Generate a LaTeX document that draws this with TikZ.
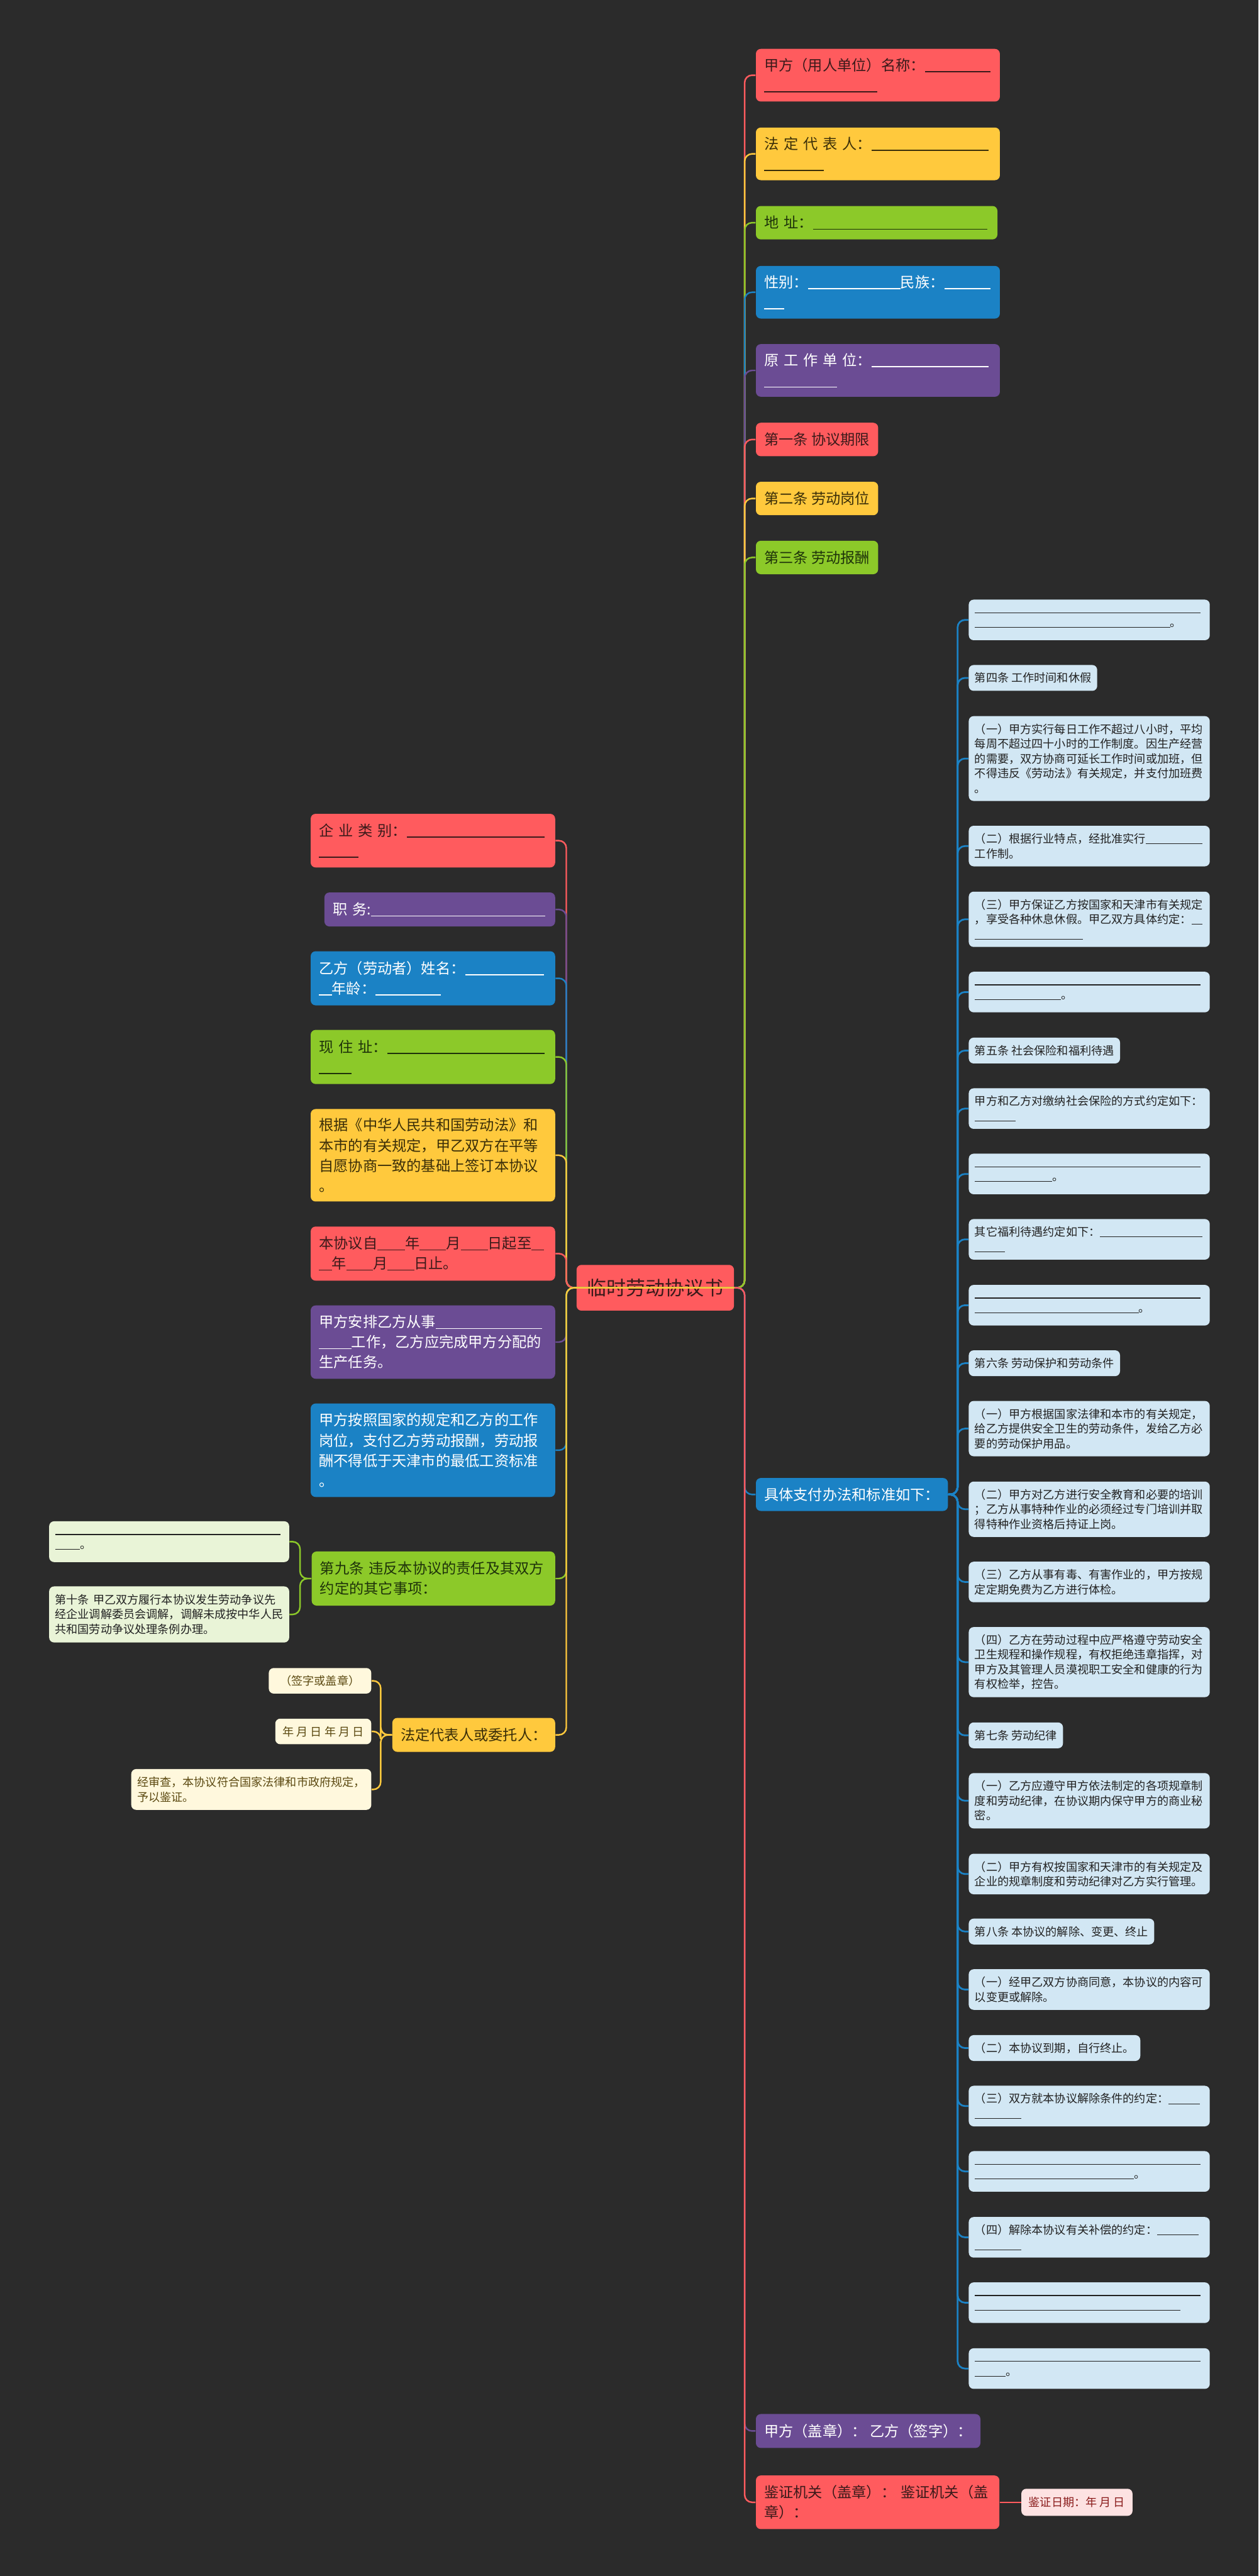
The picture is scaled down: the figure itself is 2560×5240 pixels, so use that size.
\documentclass[tikz,border=0pt]{standalone}
\usepackage{fontspec}
\setmainfont{Noto Sans CJK SC}
\definecolor{cBG}{HTML}{2B2B2B}
\definecolor{cRed}{HTML}{FF5B5E}
\definecolor{cYel}{HTML}{FFC93D}
\definecolor{cGrn}{HTML}{8CC929}
\definecolor{cBlu}{HTML}{1B82C5}
\definecolor{cPur}{HTML}{6B4C94}
\definecolor{cLB}{HTML}{D2E7F4}
\definecolor{cLG}{HTML}{E9F4D7}
\definecolor{cLY}{HTML}{FFF8DD}
\definecolor{cLR}{HTML}{FDE2E2}
\definecolor{tRed}{HTML}{3B1A1A}
\definecolor{tYel}{HTML}{3A2E08}
\definecolor{tGrn}{HTML}{1E330A}
\definecolor{tDark}{HTML}{222222}
\definecolor{tBrown}{HTML}{5C4A12}
\definecolor{tDRed}{HTML}{8A1C1C}
\newlength\pxu
\setlength\pxu{0.01cm}
\newcommand\bl[1]{\rule[-0.1em]{#1\pxu}{0.065em}}
\newcommand\gsp{\kern0.1cm}
\newcommand\fA{\fontsize{8.45pt}{11.67pt}\selectfont}
\newcommand\fB{\fontsize{6.6pt}{8.54pt}\selectfont}
\newcommand\fR{\fontsize{11.27pt}{13pt}\selectfont}
\tikzset{
  box/.style={rounded corners=0.1cm, inner ysep=0pt, align=left},
  big/.style={box, inner xsep=0.17cm, font=\fA},
  small/.style={box, inner xsep=0.12cm, font=\fB},
  lb/.style={small, fill=cLB, text=tDark, anchor=west},
  con/.style={line width=0.9pt, rounded corners=0.15cm},
  rcon/.style={con, line width=1pt},
  bR/.style={big, fill=cRed, text=tRed},
  bY/.style={big, fill=cYel, text=tYel},
  bG/.style={big, fill=cGrn, text=tGrn},
  bB/.style={big, fill=cBlu, text=white},
  bP/.style={big, fill=cPur, text=white},
}
\begin{document}
\begin{tikzpicture}[x=0.01cm,y=-0.01cm]
\fill[cBG] (0,0) rectangle (2560,5240);
\useasboundingbox (0,0) rectangle (2560,5240);

% root
\node[fill=cRed, text=tRed, rounded corners=0.1cm, font=\fR, minimum width=3.2cm, minimum height=0.93cm, inner sep=0pt] (root) at (1333,2619.5) {临时劳动协议书};

% right level 1
\node[bR, anchor=west, text width=4.62cm, minimum height=1.07cm] (R1) at (1537,153) {甲方（用人单位）名称：\bl{133}\\\bl{230}};
\node[bY, anchor=west, text width=4.62cm, minimum height=1.07cm] (R2) at (1537,313) {法\gsp 定\gsp 代\gsp 表\gsp 人：\bl{238}\\\bl{121}};
\node[bG, anchor=west, text width=4.57cm, minimum height=0.68cm] (R3) at (1537,453) {地\gsp 址：\bl{355}};
\node[bB, anchor=west, text width=4.62cm, minimum height=1.07cm] (R4) at (1537,594.5) {性别：\bl{188}民族：\bl{94}\\\bl{40}};
\node[bP, anchor=west, text width=4.62cm, minimum height=1.07cm] (R5) at (1537,753.5) {原\gsp 工\gsp 作\gsp 单\gsp 位：\bl{238}\\\bl{148}};
\node[bR, anchor=west, minimum height=0.68cm] (R6) at (1537,894) {第一条~协议期限};
\node[bY, anchor=west, minimum height=0.68cm] (R7) at (1537,1014) {第二条~劳动岗位};
\node[bG, anchor=west, minimum height=0.68cm] (R8) at (1537,1134) {第三条~劳动报酬};
\node[bB, anchor=west, minimum width=3.9cm, minimum height=0.67cm] (R9) at (1537,3040) {具体支付办法和标准如下：};
\node[bP, anchor=west, minimum height=0.69cm] (R10) at (1537,4945) {甲方（盖章）：~乙方（签字）：};
\node[bR, anchor=west, text width=4.61cm, minimum height=1.09cm] (R11) at (1537,5090) {鉴证机关（盖章）：~鉴证机关（盖\\章）：};
\node[small, fill=cLR, text=tDRed, anchor=west, inner xsep=0.15cm, minimum height=0.55cm] (R12) at (2077,5090) {鉴证日期：年~月~日};

% left level 1
\node[bR, anchor=east, text width=4.63cm, minimum height=1.09cm] (L1) at (1130,1710) {企\gsp 业\gsp 类\gsp 别：\bl{280}\\\bl{80}};
\node[bP, anchor=east, text width=4.35cm, minimum height=0.69cm] (L2) at (1130,1850) {职\gsp 务:\bl{355}};
\node[bB, anchor=east, text width=4.63cm, minimum height=1.10cm] (L3) at (1130,1990) {乙方（劳动者）姓名：\bl{161}\\\bl{26}年龄：\bl{133}};
\node[bG, anchor=east, text width=4.63cm, minimum height=1.10cm] (L4) at (1130,2150) {现\gsp 住\gsp 址：\bl{320}\\\bl{66}};
\node[bY, anchor=east, text width=4.63cm, minimum height=1.88cm] (L5) at (1130,2350) {根据《中华人民共和国劳动法》和\\本市的有关规定，甲乙双方在平等\\自愿协商一致的基础上签订本协议\\。};
\node[bR, anchor=east, text width=4.63cm, minimum height=1.10cm] (L6) at (1130,2550) {本协议自\bl{56}年\bl{54}月\bl{55}日起至\bl{25}\\\bl{26}年\bl{54}月\bl{54}日止。};
\node[bP, anchor=east, text width=4.63cm, minimum height=1.49cm] (L7) at (1130,2730) {甲方安排乙方从事\bl{216}\\\bl{66}工作，乙方应完成甲方分配的\\生产任务。};
\node[bB, anchor=east, text width=4.63cm, minimum height=1.90cm] (L8) at (1130,2950) {甲方按照国家的规定和乙方的工作\\岗位，支付乙方劳动报酬，劳动报\\酬不得低于天津市的最低工资标准\\。};
\node[bG, anchor=east, text width=4.61cm, minimum height=1.10cm] (L9) at (1130,3211) {第九条~违反本协议的责任及其双方\\约定的其它事项：};
\node[bY, anchor=east, minimum height=0.69cm] (L10) at (1130,3529) {法定代表人或委托人：};

% children of L9
\node[small, fill=cLG, text=tDark, anchor=east, text width=4.64cm, minimum height=0.83cm] (G1) at (589,3136) {\bl{459}\\\bl{51}。};
\node[small, fill=cLG, text=tDark, anchor=east, text width=4.64cm, minimum height=1.14cm] (G2) at (589,3284) {第十条~甲乙双方履行本协议发生劳动争议先\\经企业调解委员会调解，调解未成按中华人民\\共和国劳动争议处理条例办理。};

% children of L10
\node[small, fill=cLY, text=tBrown, anchor=east, inner xsep=0.23cm, minimum height=0.52cm] (Y1) at (756,3419) {（签字或盖章）};
\node[small, fill=cLY, text=tBrown, anchor=east, inner xsep=0.15cm, minimum height=0.52cm] (Y2) at (756,3522) {年~月~日~年~月~日};
\node[small, fill=cLY, text=tBrown, anchor=east, text width=4.64cm, minimum height=0.83cm] (Y3) at (756,3640) {经审查，本协议符合国家法律和市政府规定，\\予以鉴证。};

% children of R9
\node[lb, text width=4.66cm, minimum height=0.825cm] (c1) at (1970,1261) {\bl{460}\\\bl{398}。};
\node[lb, minimum height=0.525cm] (c2) at (1970,1379) {第四条~工作时间和休假};
\node[lb, text width=4.66cm, minimum height=1.725cm] (c3) at (1970,1543) {（一）甲方实行每日工作不超过八小时，平均\\每周不超过四十小时的工作制度。因生产经营\\的需要，双方协商可延长工作时间或加班，但\\不得违反《劳动法》有关规定，并支付加班费\\。};
\node[lb, text width=4.66cm, minimum height=0.825cm] (c4) at (1970,1721) {（二）根据行业特点，经批准实行\bl{115}\\工作制。};
\node[lb, text width=4.66cm, minimum height=1.125cm] (c5) at (1970,1870) {（三）甲方保证乙方按国家和天津市有关规定\\，享受各种休息休假。甲乙双方具体约定：\bl{22}\\\bl{220}};
\node[lb, text width=4.66cm, minimum height=0.825cm] (c6) at (1970,2018) {\bl{460}\\\bl{176}。};
\node[lb, minimum height=0.525cm] (c7) at (1970,2137) {第五条~社会保险和福利待遇};
\node[lb, text width=4.66cm, minimum height=0.825cm] (c8) at (1970,2255) {甲方和乙方对缴纳社会保险的方式约定如下：\\\bl{83}};
\node[lb, text width=4.66cm, minimum height=0.825cm] (c9) at (1970,2388) {\bl{460}\\\bl{158}。};
\node[lb, text width=4.66cm, minimum height=0.825cm] (c10) at (1970,2521) {其它福利待遇约定如下：\bl{208}\\\bl{62}};
\node[lb, text width=4.66cm, minimum height=0.825cm] (c11) at (1970,2655) {\bl{460}\\\bl{334}。};
\node[lb, minimum height=0.525cm] (c12) at (1970,2773) {第六条~劳动保护和劳动条件};
\node[lb, text width=4.66cm, minimum height=1.125cm] (c13) at (1970,2906) {（一）甲方根据国家法律和本市的有关规定，\\给乙方提供安全卫生的劳动条件，发给乙方必\\要的劳动保护用品。};
\node[lb, text width=4.66cm, minimum height=1.125cm] (c14) at (1970,3070) {（二）甲方对乙方进行安全教育和必要的培训\\；乙方从事特种作业的必须经过专门培训并取\\得特种作业资格后持证上岗。};
\node[lb, text width=4.66cm, minimum height=0.825cm] (c15) at (1970,3218) {（三）乙方从事有毒、有害作业的，甲方按规\\定定期免费为乙方进行体检。};
\node[lb, text width=4.66cm, minimum height=1.425cm] (c16) at (1970,3381) {（四）乙方在劳动过程中应严格遵守劳动安全\\卫生规程和操作规程，有权拒绝违章指挥，对\\甲方及其管理人员漠视职工安全和健康的行为\\有权检举，控告。};
\node[lb, minimum height=0.525cm] (c17) at (1970,3530) {第七条~劳动纪律};
\node[lb, text width=4.66cm, minimum height=1.125cm] (c18) at (1970,3663) {（一）乙方应遵守甲方依法制定的各项规章制\\度和劳动纪律，在协议期内保守甲方的商业秘\\密。};
\node[lb, text width=4.66cm, minimum height=0.825cm] (c19) at (1970,3812) {（二）甲方有权按国家和天津市的有关规定及\\企业的规章制度和劳动纪律对乙方实行管理。};
\node[lb, minimum height=0.525cm] (c20) at (1970,3929) {第八条~本协议的解除、变更、终止};
\node[lb, text width=4.66cm, minimum height=0.825cm] (c21) at (1970,4047) {（一）经甲乙双方协商同意，本协议的内容可\\以变更或解除。};
\node[lb, minimum height=0.525cm] (c22) at (1970,4166) {（二）本协议到期，自行终止。};
\node[lb, text width=4.66cm, minimum height=0.825cm] (c23) at (1970,4284) {（三）双方就本协议解除条件的约定：\bl{63}\\\bl{95}};
\node[lb, text width=4.66cm, minimum height=0.825cm] (c24) at (1970,4417) {\bl{460}\\\bl{324}。};
\node[lb, text width=4.66cm, minimum height=0.825cm] (c25) at (1970,4551) {（四）解除本协议有关补偿的约定：\bl{84}\\\bl{95}};
\node[lb, text width=4.66cm, minimum height=0.825cm] (c26) at (1970,4684) {\bl{460}\\\bl{418}};
\node[lb, text width=4.66cm, minimum height=0.825cm] (c27) at (1970,4818) {\bl{460}\\\bl{63}。};

% connectors: right side
\draw[con,cRed] (root.east) -- ++(21,0) |- (R1.west);
\draw[con,cYel] (root.east) -- ++(21,0) |- (R2.west);
\draw[con,cGrn] (root.east) -- ++(21,0) |- (R3.west);
\draw[con,cBlu] (root.east) -- ++(21,0) |- (R4.west);
\draw[con,cPur] (root.east) -- ++(21,0) |- (R5.west);
\draw[con,cRed] (root.east) -- ++(21,0) |- (R6.west);
\draw[con,cYel] (root.east) -- ++(21,0) |- (R7.west);
\draw[con,cGrn] (root.east) -- ++(21,0) |- (R8.west);
\draw[con,cBlu] (root.east) -- ++(21,0) |- (R9.west);
\draw[con,cPur] (root.east) -- ++(21,0) |- (R10.west);
\draw[con,cRed] (root.east) -- ++(21,0) |- (R11.west);
\draw[con,cRed] (R11.east) -- (R12.west);

% connectors: left side
\draw[con,cRed] (root.east) -- (1152,2619.5) |- (L1.east);
\draw[con,cPur] (root.east) -- (1152,2619.5) |- (L2.east);
\draw[con,cBlu] (root.east) -- (1152,2619.5) |- (L3.east);
\draw[con,cGrn] (root.east) -- (1152,2619.5) |- (L4.east);
\draw[con,cYel] (root.east) -- (1152,2619.5) |- (L5.east);
\draw[con,cRed] (root.east) -- (1152,2619.5) |- (L6.east);
\draw[con,cPur] (root.east) -- (1152,2619.5) |- (L7.east);
\draw[con,cBlu] (root.east) -- (1152,2619.5) |- (L8.east);
\draw[con,cGrn] (root.east) -- (1152,2619.5) |- (L9.east);
\draw[con,cYel] (root.east) -- (1152,2619.5) |- (L10.east);

% children connectors
\foreach \n in {G1,G2} \draw[con,cGrn] (L9.west) -- ++(-23,0) |- (\n.east);
\foreach \n in {Y1,Y2,Y3} \draw[con,cYel] (L10.west) -- ++(-23,0) |- (\n.east);
\foreach \n in {c1,c2,c3,c4,c5,c6,c7,c8,c9,c10,c11,c12,c13,c14,c15,c16,c17,c18,c19,c20,c21,c22,c23,c24,c25,c26,c27}
  \draw[rcon,cBlu] (R9.east) -- (1948,3040) |- (\n.west);
\end{tikzpicture}
\end{document}
